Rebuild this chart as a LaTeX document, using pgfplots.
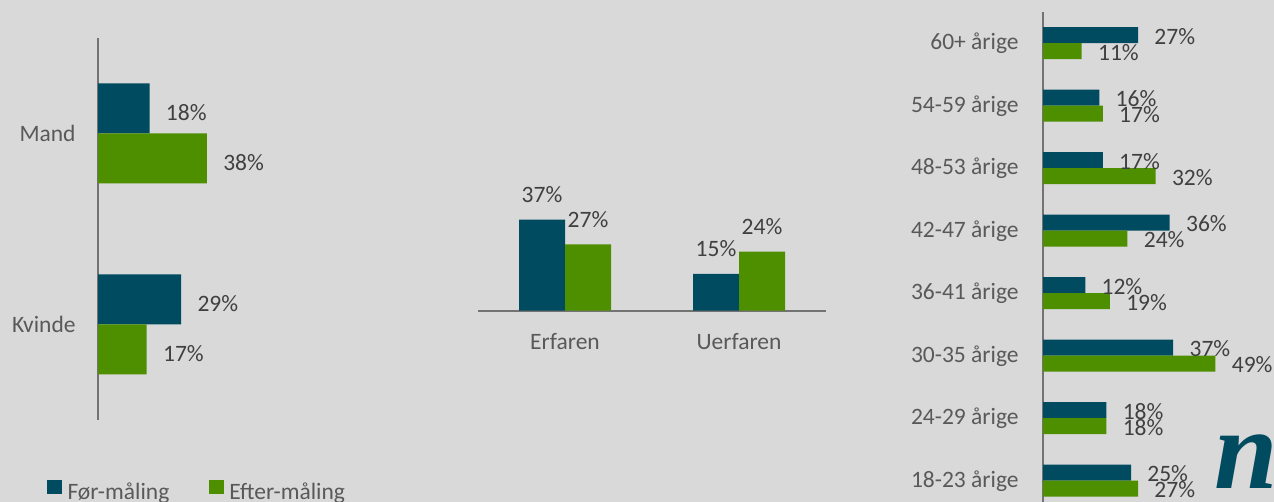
\documentclass[border=0pt]{standalone}
\usepackage{pgfplots}
\pgfplotsset{compat=1.18}
\usepackage{fontspec}
\setmainfont{Carlito}
\newfontfamily\logofont{Liberation Serif}
\definecolor{bg}{HTML}{D9D9D9}
\definecolor{cfor}{HTML}{004B5F}
\definecolor{cefter}{HTML}{4E8F00}
\definecolor{tickc}{HTML}{595959}
\definecolor{valc}{HTML}{404040}
\definecolor{axgray}{HTML}{737373}
\newcommand{\fs}{\fontsize{11.75}{14}\selectfont}
\pgfplotsset{
  common/.style={
    scale only axis, clip=false,
    /pgf/number format/assume math mode=true,
    major tick length=0pt, tick style={draw=none},
    font=\fs,
    axis line style={draw=axgray, line width=1pt},
    ticklabel style={text=tickc, font=\fs},
    nodes near coords={\pgfmathprintnumber{\pgfplotspointmeta}\%},
    every node near coord/.append style={font=\fs, text=valc, inner sep=0pt},
  }
}
\begin{document}
\begin{tikzpicture}
\path[use as bounding box] (0,0) rectangle (637pt,251pt);
\clip (0,0) rectangle (637pt,251pt);
\fill[bg] (0,0) rectangle (637pt,251pt);

% Left panel: gender
\begin{axis}[common,
  at={(49pt,41pt)}, anchor=south west,
  width=86pt, height=191pt,
  xmin=0, xmax=60, ymin=-0.5, ymax=1.5,
  xbar, bar width=25pt, point meta=x,
  axis x line=none, axis y line*=left,
  xtick=\empty,
  ytick={0,1}, yticklabels={Kvinde,Mand},
  yticklabel style={inner sep=0pt, xshift=-11pt},
  every node near coord/.append style={anchor=west, xshift=8pt, yshift=-2.2pt},
  legend style={at={(axis description cs:-0.2965,-0.186)}, anchor=west,
    draw=none, fill=none, legend columns=2, inner sep=0pt,
    font=\fs, text=tickc, nodes={inner sep=0pt},
    /tikz/every odd column/.append style={column sep=2.85pt},
    /tikz/every even column/.append style={column sep=20pt}},
  legend image code/.code={\fill[#1] (0pt,-0.8pt) rectangle (7.2pt,6.4pt);},
]
\addplot[fill=cfor, draw=none, bar shift=12.5pt] coordinates {(29,0) (18,1)};
\addplot[fill=cefter, draw=none, bar shift=-12.5pt] coordinates {(17,0) (38,1)};
\legend{Før-måling, Efter-måling}
\end{axis}

% Middle panel: experience
\begin{axis}[common,
  at={(239pt,95.65pt)}, anchor=south west,
  width=174pt, height=61.5pt,
  xmin=-0.5, xmax=1.5, ymin=0, ymax=50,
  ybar, bar width=23pt, point meta=y,
  axis y line=none, axis x line*=bottom,
  ytick=\empty,
  xtick={0,1}, xticklabels={Erfaren,Uerfaren},
  xticklabel style={inner sep=0pt, anchor=north, yshift=-11pt},
  every node near coord/.append style={anchor=south, yshift=8.3pt},
]
\addplot[fill=cfor, draw=none, bar shift=-11.5pt] coordinates {(0,37) (1,15)};
\addplot[fill=cefter, draw=none, bar shift=11.5pt] coordinates {(0,27) (1,24)};
\end{axis}

% Right panel: age groups
\begin{axis}[common,
  at={(521.5pt,-5pt)}, anchor=south west,
  width=105.6pt, height=250pt,
  xmin=0, xmax=60, ymin=-0.5, ymax=7.5,
  xbar, bar width=8pt, point meta=x,
  axis x line=none, axis y line*=left,
  xtick=\empty,
  ytick={0,1,2,3,4,5,6,7},
  yticklabels={18-23 årige,24-29 årige,30-35 årige,36-41 årige,42-47 årige,48-53 årige,54-59 årige,60+ årige},
  yticklabel style={inner sep=0pt, xshift=-12pt},
  every node near coord/.append style={anchor=west, xshift=8pt, yshift=-0.5pt},
]
\addplot[fill=cfor, draw=none, bar shift=4pt] coordinates {(25,0) (18,1) (37,2) (12,3) (36,4) (17,5) (16,6) (27,7)};
\addplot[fill=cefter, draw=none, bar shift=-4pt] coordinates {(27,0) (18,1) (49,2) (19,3) (24,4) (32,5) (17,6) (11,7)};
\end{axis}

\node[anchor=base west, inner sep=0pt, text=cfor, font=\fontsize{57}{57}\logofont\bfseries\itshape] at (607pt,6.5pt) {n};
\end{tikzpicture}
\end{document}
